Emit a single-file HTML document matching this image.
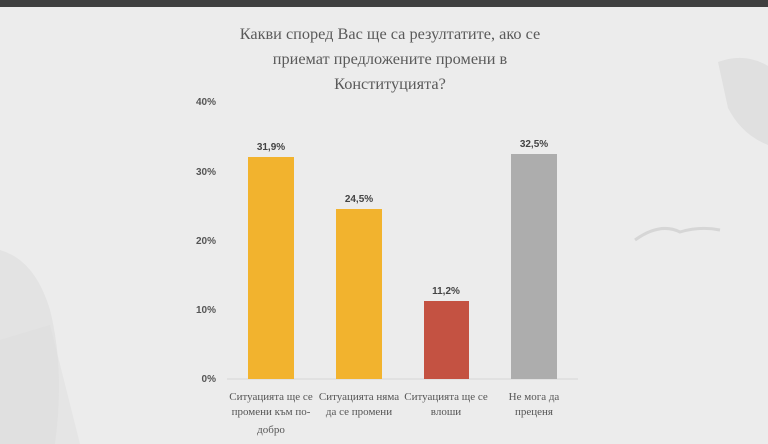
<!DOCTYPE html>
<html><head><meta charset="utf-8"><style>
html,body{margin:0;padding:0;background:#ececec;}
svg{display:block}
</style></head><body>
<svg width="768" height="444" viewBox="0 0 768 444" xmlns="http://www.w3.org/2000/svg">
<rect width="768" height="444" fill="#ececec"/>
<rect width="768" height="7" fill="#3f4040"/>
<path d="M0 250 Q35 260 50 310 Q65 370 55 444 L0 444 Z" fill="#e3e3e3"/>
<path d="M0 340 L50 325 L80 444 L0 444 Z" fill="#dedede" opacity="0.5"/>
<path d="M718 62 Q745 52 768 66 L768 145 Q742 135 728 108 Z" fill="#e0e0e0"/>
<path d="M635 240 Q660 222 680 232 Q700 226 720 230" stroke="#d6d6d6" stroke-width="3" fill="none"/>
<g font-family="'Liberation Serif','Noto Serif CJK SC',serif" font-size="16.3" fill="#5a5a5a" text-anchor="middle">
<text x="390" y="39">Какви според Вас ще са резултатите, ако се</text>
<text x="390" y="64">приемат предложените промени в</text>
<text x="390" y="89">Конституцията?</text>
</g>
<g font-family="'Liberation Sans',sans-serif" font-size="10" font-weight="bold" fill="#555" text-anchor="end">
<text x="216" y="105">40%</text>
<text x="216" y="175">30%</text>
<text x="216" y="244">20%</text>
<text x="216" y="313">10%</text>
<text x="216" y="382">0%</text>
</g>
<line x1="227" y1="379" x2="578" y2="379" stroke="#d6d6d6" stroke-width="1"/>
<rect x="248" y="157" width="46" height="222" fill="#f2b32e"/>
<rect x="336" y="209" width="46" height="170" fill="#f2b32e"/>
<rect x="424" y="301" width="45" height="78" fill="#c45242"/>
<rect x="511" y="154" width="46" height="225" fill="#adadad"/>
<g font-family="'Liberation Sans',sans-serif" font-size="10" font-weight="bold" fill="#444" text-anchor="middle">
<text x="271" y="150">31,9%</text>
<text x="359" y="202">24,5%</text>
<text x="446" y="294">11,2%</text>
<text x="534" y="147">32,5%</text>
</g>
<g font-family="'Liberation Serif','Noto Serif CJK SC',serif" font-size="11" fill="#555" text-anchor="middle">
<text x="271" y="400">Ситуацията ще се</text>
<text x="271" y="415">промени към по-</text>
<text x="271" y="433">добро</text>
<text x="359" y="400">Ситуацията няма</text>
<text x="359" y="415">да се промени</text>
<text x="446" y="400">Ситуацията ще се</text>
<text x="446" y="415">влоши</text>
<text x="534" y="400">Не мога да</text>
<text x="534" y="415">преценя</text>
</g>
</svg>
</body></html>
